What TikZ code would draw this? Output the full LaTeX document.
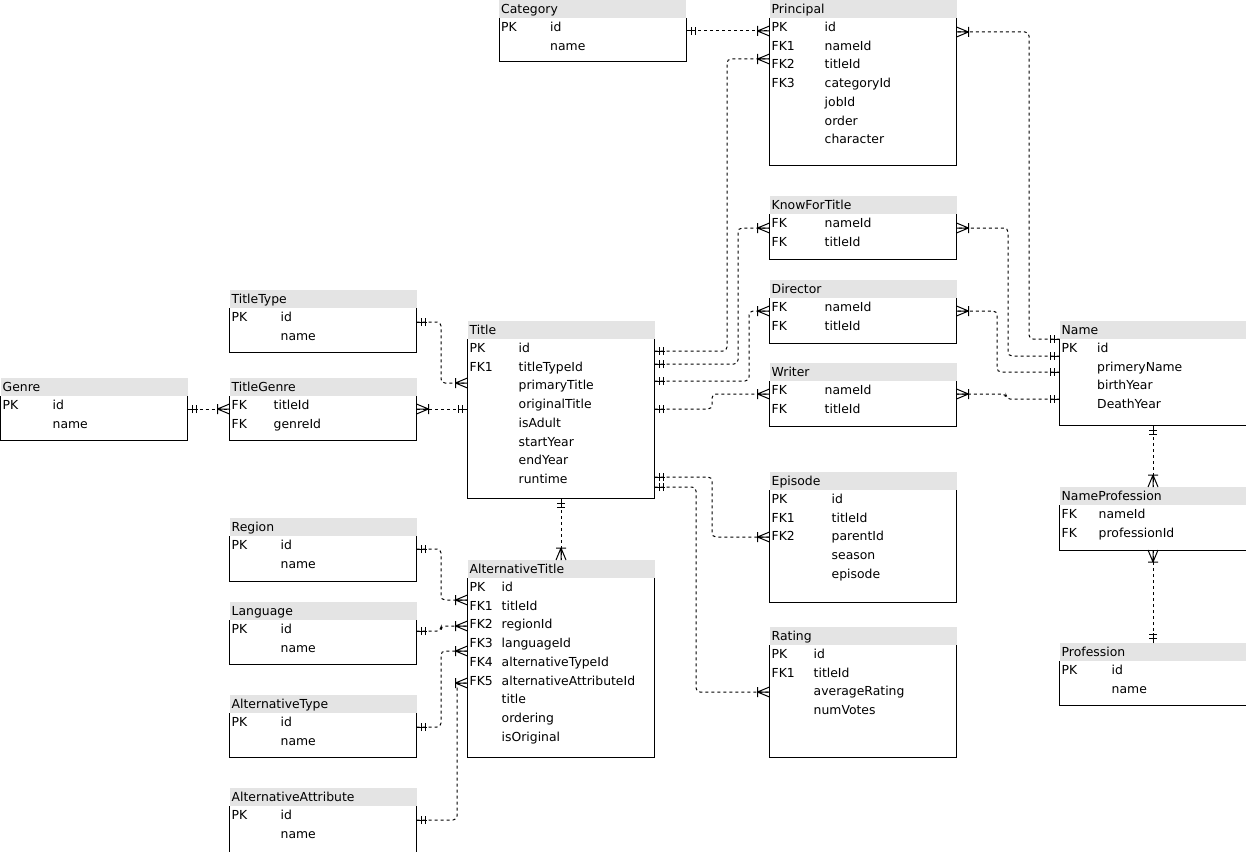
\documentclass[tikz,border=0pt]{standalone}
\usepackage{fontspec}
\setmainfont{DejaVu Sans}
\usetikzlibrary{decorations.markings}
\definecolor{headgray}{RGB}{228,228,228}

% one table: name, x, y, body height, title, field column, key/field rows
\newcommand{\erentity}[7]{%
  \node[entity,minimum height={#4pt+18pt}] (#1) at (#2,#3) {};
  \fill[headgray] (#1.north west) rectangle ([yshift=-18pt]#1.north east);
  \node[cell] (#1-head) at ([xshift=2pt,yshift=-13.3pt]#1.north west) {#5};
  \draw[frame] ([yshift=-18pt]#1.north west) -- (#1.south west) -- (#1.south east) -- ([yshift=-18pt]#1.north east);
  \foreach \k/\f [count=\i] in {#7} {
    \node[cell] (#1-k\i) at ([xshift=2pt,yshift={-31.5pt-(\i-1)*18.7pt}]#1.north west) {\k};
    \node[cell] (#1-f\i) at ([xshift=#6pt,yshift={-31.5pt-(\i-1)*18.7pt}]#1.north west) {\f};
  }%
}

\begin{document}
\begin{tikzpicture}[x=1pt,y=-1pt,
  entity/.style={anchor=north west,minimum width=187pt,inner sep=0pt,outer sep=0pt},
  cell/.style={anchor=base west,inner sep=0pt,font=\fontsize{12.4}{15}\selectfont},
  frame/.style={line width=1pt},
  rel/.style={draw,line width=1pt,dash pattern=on 3pt off 3pt,rounded corners=4pt,
    postaction={decorate,decoration={markings,
      mark=at position 0 with {\draw[solid] (5pt,-4pt)--(5pt,4pt) (9pt,-4pt)--(9pt,4pt) (0,0)--(10pt,0);},
      mark=at position 1 with {\draw[solid] (-12pt,-5pt)--(-12pt,5pt) (-12pt,0)--(0,5pt) (-12pt,0)--(0,-5pt) (-12pt,0)--(0,0);}}}}]
\useasboundingbox (0,0) rectangle (1246,851);

\erentity{category}{499}{0}{43}{Category}{51}{PK/id,{}/name}
\erentity{principal}{769.5}{0}{147}{Principal}{55}{PK/id,FK1/nameId,FK2/titleId,FK3/categoryId,{}/jobId,{}/order,{}/character}
\erentity{knowfor}{769.5}{196}{45}{KnowForTitle}{55}{FK/nameId,FK/titleId}
\erentity{director}{769.5}{280}{45}{Director}{55}{FK/nameId,FK/titleId}
\erentity{writer}{769.5}{363}{45}{Writer}{55}{FK/nameId,FK/titleId}
\erentity{episode}{769.5}{472}{112}{Episode}{62}{PK/id,FK1/titleId,FK2/parentId,{}/season,{}/episode}
\erentity{rating}{769.5}{627}{112}{Rating}{44}{PK/id,FK1/titleId,{}/averageRating,{}/numVotes}
\erentity{name}{1059.5}{321}{86}{Name}{37.5}{PK/id,{}/primeryName,{}/birthYear,{}/DeathYear}
\erentity{nameprof}{1059.5}{487}{45}{NameProfession}{39}{FK/nameId,FK/professionId}
\erentity{profession}{1059.5}{643}{44}{Profession}{52}{PK/id,{}/name}
\erentity{title}{467.5}{321}{159}{Title}{51}{PK/id,FK1/titleTypeId,{}/primaryTitle,{}/originalTitle,{}/isAdult,{}/startYear,{}/endYear,{}/runtime}
\erentity{titletype}{229.5}{290}{44}{TitleType}{51}{PK/id,{}/name}
\erentity{titlegenre}{229.5}{378}{44}{TitleGenre}{44}{FK/titleId,FK/genreId}
\erentity{genre}{0.5}{378}{44}{Genre}{52}{PK/id,{}/name}
\erentity{region}{229.5}{518}{45}{Region}{51}{PK/id,{}/name}
\erentity{language}{229.5}{602}{44}{Language}{51}{PK/id,{}/name}
\erentity{alttype}{229.5}{695}{44}{AlternativeType}{51}{PK/id,{}/name}
\erentity{altattr}{229.5}{788}{48}{AlternativeAttribute}{51}{PK/id,{}/name}
\erentity{alttitle}{467.5}{560}{179}{AlternativeTitle}{34}{PK/id,FK1/titleId,FK2/regionId,FK3/languageId,FK4/alternativeTypeId,FK5/alternativeAttributeId,{}/title,{}/ordering,{}/isOriginal}

% relations, drawn from the one side to the many side
\draw[rel] (category.east |- 0,31) -- (principal.west |- 0,31);
\draw[rel] (title.east |- 0,351) -| (727,59) -- (principal.west |- 0,59);
\draw[rel] (title.east |- 0,364) -| (738,228) -- (knowfor.west |- 0,228);
\draw[rel] (title.east |- 0,381) -| (749,311) -- (director.west |- 0,311);
\draw[rel] (title.east |- 0,409) -| (712,394) -- (writer.west |- 0,394);
\draw[rel] (title.east |- 0,477) -| (712,537) -- (episode.west |- 0,537);
\draw[rel] (title.east |- 0,487) -| (696,692) -- (rating.west |- 0,692);
\draw[rel] (name.west |- 0,339) -| (1029,32) -- (principal.east |- 0,32);
\draw[rel] (name.west |- 0,356) -| (1008,228) -- (knowfor.east |- 0,228);
\draw[rel] (name.west |- 0,372) -| (997,311) -- (director.east |- 0,311);
\draw[rel] (name.west |- 0,399) -| (1006,394) -- (writer.east |- 0,394);
\draw[rel] (name.south) -- (nameprof.north);
\draw[rel] (profession.north) -- (nameprof.south);
\draw[rel] (genre.east |- 0,409) -- (titlegenre.west |- 0,409);
\draw[rel] (title.west |- 0,409) -- (titlegenre.east |- 0,409);
\draw[rel] (titletype.east |- 0,322) -| (441,383) -- (title.west |- 0,383);
\draw[rel] (title.south) -- (alttitle.north);
\draw[rel] (region.east |- 0,549) -| (441,600) -- (alttitle.west |- 0,600);
\draw[rel] (language.east |- 0,631) -| (441,626) -- (alttitle.west |- 0,626);
\draw[rel] (alttype.east |- 0,727) -| (441,651) -- (alttitle.west |- 0,651);
\draw[rel] (altattr.east |- 0,820) -| (457,683) -- (alttitle.west |- 0,683);
\end{tikzpicture}
\end{document}
